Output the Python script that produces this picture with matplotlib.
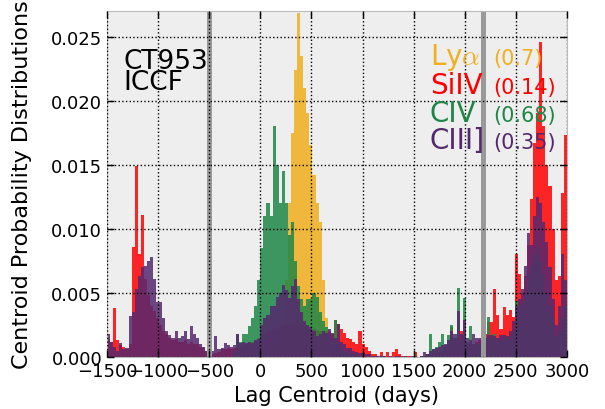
import numpy as np
import matplotlib.pyplot as plt
from matplotlib.ticker import FormatStrFormatter

plt.rcParams['mathtext.fontset'] = 'cm'

BIN = 30  # days per histogram bin

# Centroid distributions, bin heights in units of 1e-3, first bin edge given by *_start
lya_start = 120
lya = [0.5, 1.0, 1.5, 3.0, 6.0, 12.0,
       17.5, 22.4, 26.8, 23.5, 21.0, 19.0, 16.5, 14.2, 12.0, 10.5, 6.0, 3.0, 1.0]

siiv_start = -1500
siiv = [1.4, 1.2, 3.8, 1.3, 0.9, 0.8, 0.6, 1.0, 8.6, 14.9, 8.0, 11.1, 6.1, 4.8, 4.0,
        3.6, 3.0, 2.5, 2.0, 1.8, 1.5, 1.3, 1.4, 1.2, 1.2, 1.3, 1.0, 1.2, 1.0, 1.0,
        0.8, 0.7, 0.5, 0.3, 0.2, 0.3, 0.4, 0.6, 0.6, 0.7, 0.6, 0.7, 0.8, 0.8, 0.9,
        1.0, 1.1, 1.2, 1.3, 1.5, 1.6, 1.8, 2.0, 2.0, 2.2, 2.2, 2.4, 2.4, 2.5, 2.5,
        2.6, 2.5, 2.5, 2.4, 2.4, 2.3, 2.2, 2.2, 2.1, 2.0, 2.0, 2.0, 2.0, 1.8, 2.9,
        2.6, 2.2, 1.9, 1.5, 1.4, 1.2, 1.0, 2.0, 1.0, 0.8, 0.5, 0.2, 0.2, 0.0, 0.4,
        0.1, 0.4, 0.0, 0.4, 0.6, 0.2, 0.1, 0.0, 0.1, 0.0, 0.4, 0.0, 0.1, 0.1, 0.2,
        0.2, 0.3, 0.3, 0.4, 0.5, 0.8, 1.0, 2.3, 1.5, 1.5, 2.0, 1.5, 1.0, 1.2, 1.0,
        1.2, 1.3, 1.5, 1.8, 2.7, 2.7, 5.3, 3.3, 2.2, 3.9, 3.3, 3.7, 3.1, 8.0, 6.5,
        5.0, 6.3, 8.7, 12.3, 16.7, 19.0, 24.6, 18.0, 15.0, 13.3, 10.0, 6.0, 6.3, 12.8, 17.3]

civ_start = -270
civ = [0.5, 1.8, 1.2, 1.8,
       1.8, 2.4, 3.0, 4.0, 6.0, 8.5, 11.0, 12.0, 11.0, 18.0, 15.0, 12.0, 14.5, 12.0, 9.5,
       10.5, 7.5, 5.5, 4.5, 4.0, 4.5, 4.5, 5.0, 4.7, 3.5, 2.8, 2.3, 1.8, 1.5, 2.9,
       1.2, 0.8, 0.5, 0.4, 0.3, 0.2, 0.2, 0.1, 0.1, 0.0, 0.0, 0.0, 0.0, 0.0, 0.0,
       0.0, 0.0, 0.0, 0.0, 0.0, 0.0, 0.0, 0.0, 0.0, 0.0, 0.0, 0.0, 0.0, 0.1, 0.2,
       1.8, 0.6, 0.8, 1.2, 1.8, 0.9, 1.7, 2.5, 1.5, 5.4, 1.3, 4.6, 1.2, 2.4, 1.0,
       1.1, 1.0, 1.5, 1.5, 3.1, 1.5, 1.8, 1.5, 1.3, 1.5, 1.6, 1.4, 2.0, 4.4, 4.0,
       4.2, 5.0, 6.5, 7.0, 8.0, 8.5, 7.5, 6.5, 5.0, 4.0, 3.0, 1.6, 2.0, 3.0, 4.0]

ciii_start = -1500
ciii = [1.8, 1.2, 0.8, 0.5, 1.1, 0.6, 0.7, 3.2, 3.5, 5.3, 6.3, 7.0, 7.1, 7.5, 7.8,
        6.1, 4.3, 4.3, 3.0, 2.0, 1.7, 1.5, 2.0, 1.5, 1.6, 2.0, 1.4, 2.4, 1.8, 1.5,
        1.0, 0.8, 0.5, 0.3, 0.5, 1.6, 0.6, 0.7, 1.1, 0.9, 0.8, 0.9, 1.8, 1.1, 1.2,
        1.1, 1.2, 1.1, 1.3, 1.4, 2.5, 3.0, 3.3, 4.0, 4.0, 4.7, 5.0, 5.6, 5.2, 4.6,
        5.5, 6.1, 4.5, 3.5, 2.8, 2.5, 2.3, 2.0, 1.6, 1.8, 2.0, 1.9, 2.2, 1.9, 1.5,
        2.6, 1.2, 1.0, 0.7, 0.7, 0.5, 0.4, 0.3, 0.3, 0.2, 0.2, 0.1, 0.1, 0.1, 0.1,
        0.1, 0.0, 0.1, 0.0, 0.1, 0.1, 0.0, 0.1, 0.0, 0.1, 0.1, 0.0, 0.1, 0.4, 0.2,
        0.5, 0.6, 0.7, 0.8, 0.9, 1.0, 1.3, 2.0, 1.8, 3.6, 1.8, 2.9, 1.5, 1.3, 1.8,
        1.5, 1.5, 1.5, 1.5, 1.7, 1.7, 1.6, 1.5, 1.7, 1.7, 1.6, 2.0, 2.8, 4.0, 4.5,
        5.3, 7.1, 9.7, 8.7, 11.0, 12.5, 12.0, 10.5, 9.0, 7.0, 4.5, 2.5, 4.0, 8.0, 6.0]

line_names = ['Ly$\\alpha$', 'SiIV', 'CIV', 'CIII]']
line_coeffs = ['(0.7)', '(0.14)', '(0.68)', '(0.35)']
colors = ['#F0AF1E', '#FF0000', '#1E8646', '#55286E']

# seasonal gaps in the light curves
gaps = [(-525, -475), (2158, 2213)]

fig = plt.figure(figsize=(6.05, 4.1), dpi=100)
ax = fig.add_axes([0.177, 0.127, 0.76, 0.844])
ax.set_facecolor('#eeeeee')

series = [(lya_start, lya), (siiv_start, siiv), (civ_start, civ), (ciii_start, ciii)]
for (start, vals), c in zip(series, colors):
    vals = np.asarray(vals) * 1e-3
    edges = start + BIN * np.arange(len(vals) + 1)
    ax.hist(edges[:-1], bins=edges, weights=vals, color=c, alpha=0.85,
            histtype='bar', linewidth=0)

for lo, hi in gaps:
    ax.axvspan(lo, hi, color='0.6', linewidth=0)

ax.set_xlim(-1500, 3000)
ax.set_ylim(0, 0.027)
ax.set_xticks(np.arange(-1500, 3001, 500))
ax.set_yticks(np.arange(0, 0.0251, 0.005))
ax.yaxis.set_major_formatter(FormatStrFormatter('%.3f'))
ax.set_axisbelow(False)
ax.grid(True, color='k', linestyle=':', linewidth=1)
ax.tick_params(direction='in', top=True, right=True, length=5, width=1,
               labelsize=13)
for sp in ax.spines.values():
    sp.set_color('#bbbbbb')

ax.set_xlabel('Lag Centroid (days)', fontsize=15)
ax.set_ylabel('Centroid Probability Distributions', fontsize=16, labelpad=14)

# multi-line text: baseline refers to the last line
ax.text(-1340, 0.0209, 'CT953\nICCF', fontsize=19, linespacing=0.75,
        va='baseline', ha='left')

ys = [0.02282, 0.02056, 0.01838, 0.01628]
for name, coef, c, y in zip(line_names, line_coeffs, colors, ys):
    ax.text(1660, y, name, color=c, fontsize=20, va='baseline', ha='left')
    ax.text(2276, y, coef, color=c, fontsize=15, va='baseline', ha='left')

fig.savefig('out.png', dpi=100)
